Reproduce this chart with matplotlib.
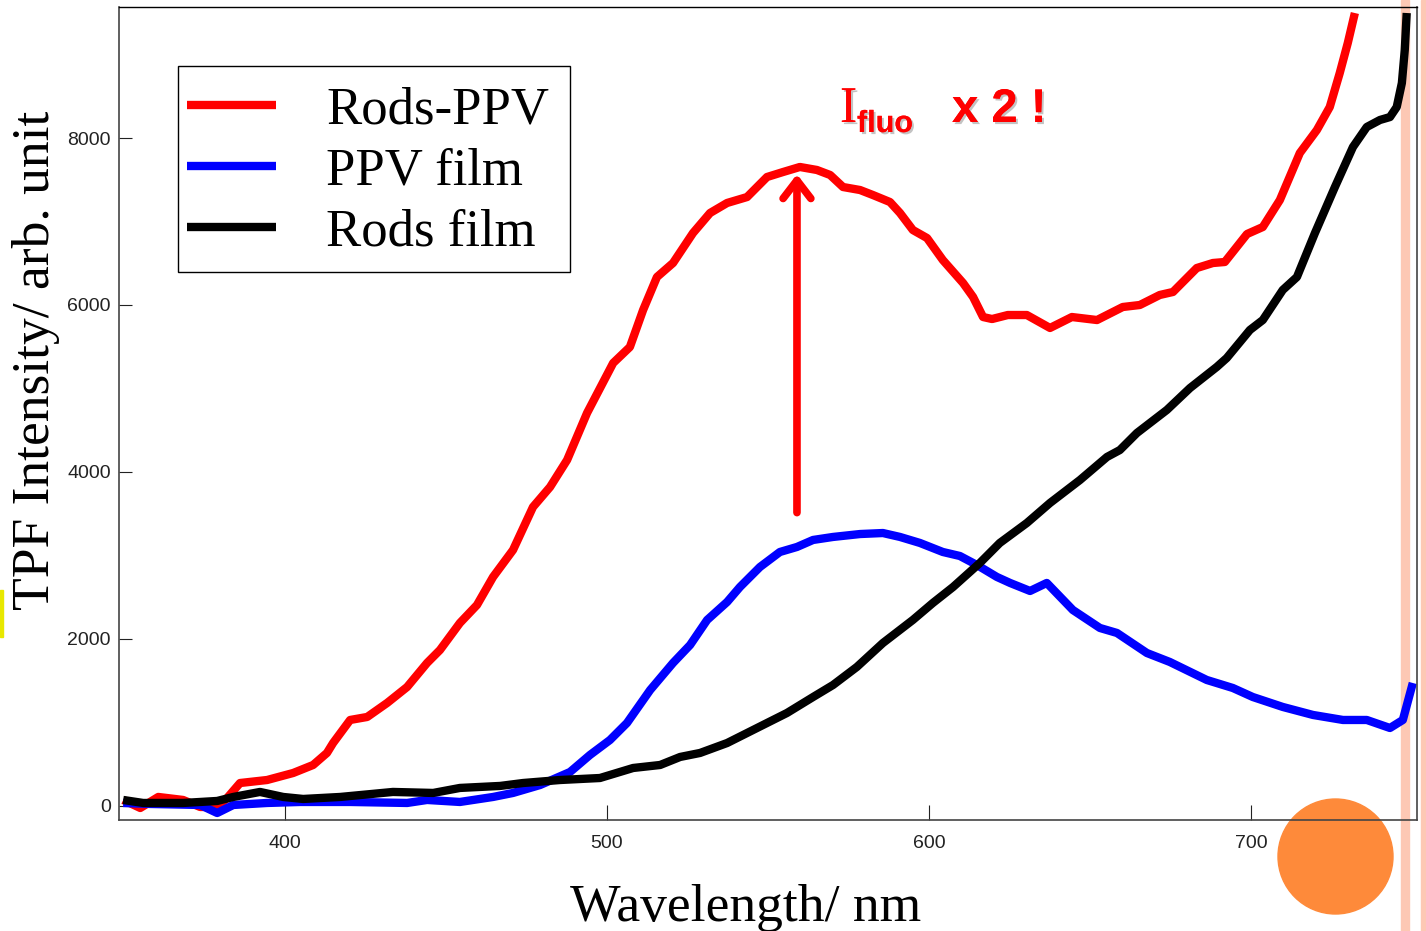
import matplotlib
matplotlib.use('Agg')
import matplotlib.pyplot as plt
import matplotlib.patheffects as pe
from matplotlib.patches import Rectangle, Ellipse

# spectra (wavelength nm, intensity arb. unit)
red_nm = [349.7, 355.0, 360.6, 368.3, 373.6, 378.9, 382.0, 386.0, 394.4, 402.5,
          408.7, 413.0, 414.9, 420.2, 425.5, 431.7, 437.9, 444.1, 448.1, 454.3,
          459.6, 464.6, 470.8, 477.0, 482.3, 487.6, 493.8, 501.9, 507.1, 511.2,
          515.5, 520.5, 526.7, 532.0, 537.3, 543.5, 549.7, 554.7, 559.9, 565.2,
          569.3, 573.3, 578.6, 582.6, 587.9, 591.0, 595.0, 599.4, 604.3, 610.6,
          613.7, 616.8, 619.6, 624.5, 630.4, 637.6, 644.4, 652.2, 660.2, 665.5,
          671.7, 675.8, 683.2, 688.2, 691.9, 698.8, 703.7, 709.0, 715.2, 720.5,
          724.5, 727.6, 730.1, 732.3]
red_val = [72, -24, 108, 72, -12, -12, 96, 275, 311, 395,
           491, 635, 754, 1030, 1066, 1234, 1425, 1713, 1868, 2192,
           2407, 2743, 3066, 3581, 3820, 4144, 4707, 5305, 5497, 5940,
           6335, 6503, 6862, 7102, 7222, 7293, 7533, 7593, 7653, 7617,
           7557, 7413, 7377, 7317, 7233, 7102, 6898, 6802, 6539, 6263,
           6096, 5856, 5832, 5880, 5880, 5725, 5856, 5820, 5976, 6000,
           6120, 6156, 6443, 6503, 6515, 6850, 6934, 7257, 7820, 8096,
           8371, 8778, 9138, 9497]

blue_nm = [349.7, 358.1, 373.6, 378.9, 383.9, 394.4, 404.7, 420.2, 437.9, 444.1,
           454.3, 464.6, 470.8, 479.2, 488.5, 494.7, 500.9, 506.2, 513.4, 520.5,
           525.8, 531.1, 537.3, 541.3, 547.5, 553.7, 559.0, 564.0, 570.2, 578.6,
           585.7, 591.0, 597.2, 604.3, 609.6, 614.9, 621.1, 625.2, 631.4, 636.6,
           644.7, 653.1, 658.4, 667.7, 674.8, 686.3, 694.4, 700.6, 709.9, 719.3,
           728.6, 736.0, 743.2, 747.2, 750.3]
blue_val = [36, 24, 12, -84, 12, 36, 48, 48, 36, 72,
            48, 108, 156, 251, 407, 611, 790, 994, 1389, 1713,
            1928, 2228, 2443, 2623, 2862, 3042, 3102, 3186, 3222, 3257,
            3269, 3222, 3150, 3042, 2994, 2886, 2743, 2671, 2575, 2671,
            2347, 2132, 2072, 1832, 1725, 1509, 1413, 1305, 1186, 1090,
            1030, 1030, 934, 1030, 1473]

black_nm = [349.7, 355.9, 368.3, 378.9, 383.9, 392.2, 399.4, 405.6, 417.1, 433.5,
            446.0, 454.3, 466.8, 473.9, 485.4, 497.8, 508.1, 516.5, 522.7, 528.9,
            537.3, 543.5, 549.7, 555.9, 564.0, 570.2, 577.6, 585.7, 595.0, 601.2,
            607.5, 615.8, 622.0, 630.4, 637.6, 646.9, 655.3, 659.3, 664.6, 673.9,
            681.1, 689.4, 692.5, 699.7, 703.7, 709.9, 714.3, 719.9, 726.1, 731.7,
            736.0, 740.1, 743.2, 745.3, 746.9, 747.8, 748.4]
black_val = [72, 36, 36, 60, 108, 168, 108, 84, 108, 168,
             156, 216, 240, 275, 311, 335, 455, 491, 587, 635,
             754, 874, 994, 1114, 1305, 1449, 1665, 1952, 2228, 2431,
             2623, 2910, 3150, 3389, 3629, 3904, 4180, 4263, 4467, 4743,
             5006, 5258, 5365, 5701, 5820, 6180, 6335, 6862, 7413, 7892,
             8132, 8216, 8251, 8371, 8659, 9054, 9497]

labels = ['Rods-PPV', 'PPV film', 'Rods film']
x_ticks = [400, 500, 600, 700]
y_ticks = [0, 2000, 4000, 6000, 8000]

W, H = 1426, 931
fig = plt.figure(figsize=(W / 100, H / 100), dpi=100)
ax = fig.add_axes([119 / W, 1 - 820 / H, (1417 - 119) / W, (820 - 7) / H])
ax.patch.set_alpha(0)

# slide decorations behind the plot
fig.add_artist(Rectangle((1401 / W, 0), 8 / W, 1, transform=fig.transFigure,
                         color='#fdc8b4', zorder=-2))
fig.add_artist(Rectangle((1421 / W, 0), 6 / W, 1, transform=fig.transFigure,
                         color='#fdc8b4', zorder=-2))
fig.add_artist(Rectangle((0, 1 - 637 / H), 3 / W, 47 / H, transform=fig.transFigure,
                         color='#e8e800', zorder=-2))
fig.add_artist(Ellipse((1335.5 / W, 1 - 856.5 / H), 115 / W, 115 / H,
                       transform=fig.transFigure, color='#fe8a3a', zorder=-1))

kw = dict(lw=6, solid_joinstyle='round', solid_capstyle='butt')
ax.plot(red_nm, red_val, color='#ff0000', label=labels[0], **kw)
ax.plot(blue_nm, blue_val, color='#0000ff', label=labels[1], **kw)
ax.plot(black_nm, black_val, color='black', label=labels[2], **kw)

ax.set_xlim(348.4, 751.6)
ax.set_ylim(-168, 9569)
ax.set_xticks(x_ticks)
ax.set_yticks(y_ticks)
tick_font = ['Liberation Sans Narrow', 'Liberation Sans']
for lab in ax.get_xticklabels() + ax.get_yticklabels():
    lab.set_family(tick_font)
    lab.set_fontsize(14)
ax.tick_params(axis='x', direction='in', length=11, width=0.8, pad=11, colors='#222222')
ax.tick_params(axis='y', direction='in', length=9, width=0.8, pad=6, colors='#222222')
for side in ['left', 'bottom', 'right']:
    ax.spines[side].set_color('#444444')
    ax.spines[side].set_linewidth(1.2)
ax.spines['top'].set_color('black')
ax.spines['top'].set_linewidth(1.0)

# legend entries without frame, the box is drawn separately
leg = ax.legend(loc='upper left', bbox_to_anchor=(176 / W, 1 - 76 / H),
                bbox_transform=fig.transFigure, borderaxespad=0,
                prop={'family': 'Liberation Serif', 'size': 38},
                handlelength=1.7, handletextpad=0.95, borderpad=0.2,
                labelspacing=0.245, frameon=False)
fig.add_artist(Rectangle((178 / W, 1 - 272 / H), (570 - 178) / W, (272 - 66) / H,
                         transform=fig.transFigure, fill=False,
                         edgecolor='black', lw=1.0))

fig.text(746 / W, 1 - 921 / H, 'Wavelength/ nm', family='Liberation Serif',
         fontsize=38.5, ha='center', va='baseline')
fig.text(36 / W, 1 - 360 / H, 'TPF Intensity/ arb. unit', family='Liberation Serif',
         fontsize=38.5, rotation=90, ha='center', va='center')

# annotation: arrow and "I_fluo x 2 !"
shadow = [pe.withSimplePatchShadow(offset=(1.5, -1.5), shadow_rgbFace='#888888', alpha=0.5),
          pe.Normal()]
ax.annotate('', xy=(559.0, 7600), xytext=(559.0, 3480),
            arrowprops=dict(arrowstyle='->,head_length=1.3,head_width=1.0',
                            color='#ff0000', lw=5.5, mutation_scale=10,
                            capstyle='round', joinstyle='round'))
fig.text(840 / W, 1 - 122 / H, 'I', family='Liberation Serif', fontsize=37,
         color='#ff0000', ha='left', va='baseline', path_effects=shadow)
fig.text(857 / W, 1 - 132 / H, 'fluo', family='Liberation Sans', fontsize=22,
         fontweight='bold', color='#ff0000', ha='left', va='baseline',
         path_effects=shadow)
fig.text(952 / W, 1 - 122 / H, 'x 2 !', family='Liberation Sans', fontsize=34,
         fontweight='bold', color='#ff0000', ha='left', va='baseline',
         path_effects=shadow)

fig.savefig('out.png', dpi=100, facecolor='white')
